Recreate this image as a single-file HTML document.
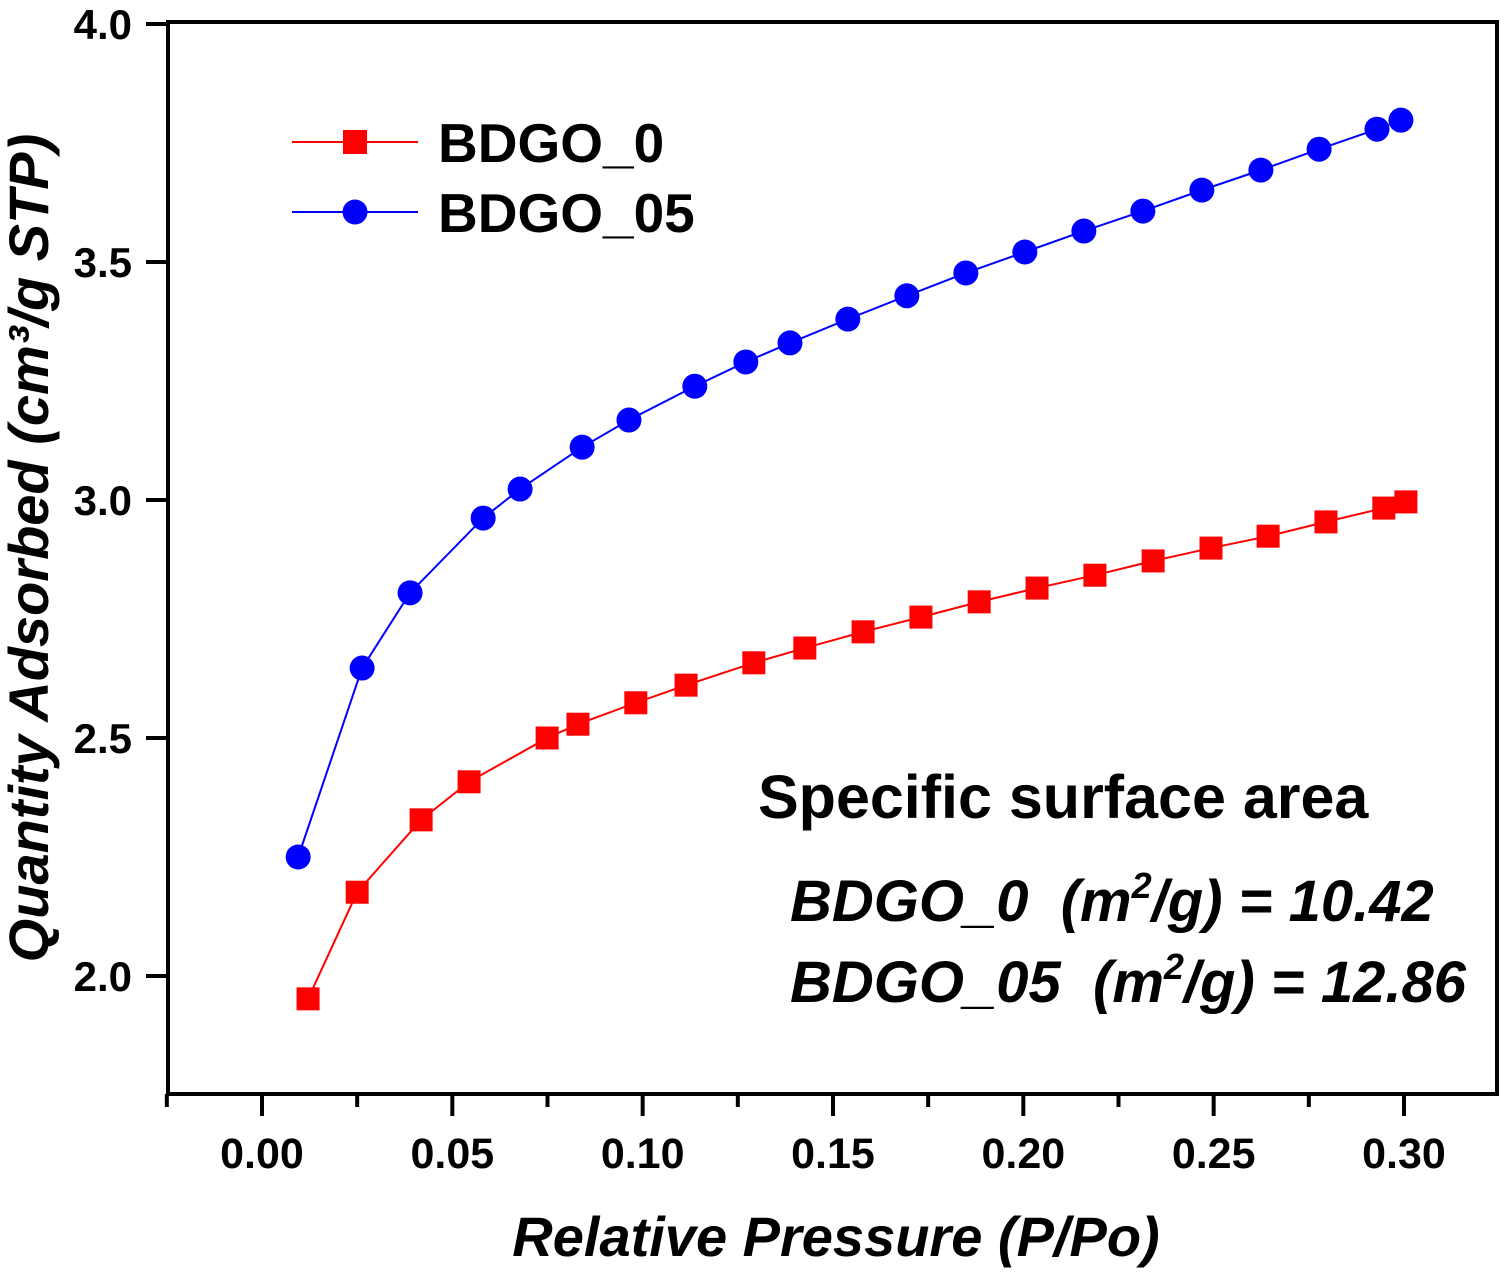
<!DOCTYPE html>
<html><head><meta charset="utf-8"><style>
html,body{margin:0;padding:0;background:#fff;}
svg{display:block;font-family:"Liberation Sans",Arial,sans-serif;font-weight:bold;}
text{white-space:pre;}
</style></head><body>
<svg id="chart" width="1508" height="1272" viewBox="0 0 1508 1272">
<g id="axes"></g><g id="series"></g>
<g>
<line x1="292" y1="142" x2="418" y2="142" stroke="#ff0000" stroke-width="2"/>
<rect x="343" y="130" width="24" height="24" fill="#ff0000"/>
<text x="438" y="162" font-size="55">BDGO_0</text>
<line x1="292" y1="212" x2="418" y2="212" stroke="#0000ff" stroke-width="2"/>
<circle cx="355" cy="212" r="12.5" fill="#0000ff"/>
<text x="438" y="232" font-size="55">BDGO_05</text>
</g>
<text x="758" y="818" font-size="61">Specific surface area</text>
<text x="790" y="921" font-size="58" font-style="italic" xml:space="preserve">BDGO_0  (m<tspan font-size="36" dy="-23">2</tspan><tspan dy="23">/g) = 10.42</tspan></text>
<text x="790" y="1002" font-size="58" font-style="italic" xml:space="preserve">BDGO_05  (m<tspan font-size="36" dy="-23">2</tspan><tspan dy="23">/g) = 12.86</tspan></text>
<text x="836" y="1256" font-size="56" font-style="italic" text-anchor="middle">Relative Pressure (P/Po)</text>
<text transform="translate(48,548) rotate(-90)" font-size="56" font-style="italic" text-anchor="middle">Quantity Adsorbed (cm³/g STP)</text>
</svg>
<script>
const redX=[0.0121,0.0250,0.0418,0.0544,0.0749,0.0830,0.0982,0.1114,0.1292,0.1426,0.1579,0.1731,0.1884,0.2036,0.2188,0.2341,0.2493,0.2643,0.2795,0.2947,0.3005];
const redY=[1.952,2.176,2.328,2.408,2.500,2.529,2.574,2.611,2.658,2.689,2.723,2.754,2.786,2.815,2.842,2.872,2.899,2.924,2.954,2.983,2.996];
const blueX=[0.0095,0.0263,0.0389,0.0581,0.0678,0.0841,0.0964,0.1137,0.1271,0.1387,0.1539,0.1694,0.1849,0.2004,0.2159,0.2314,0.2469,0.2624,0.2777,0.2929,0.2992];
const blueY=[2.250,2.647,2.805,2.962,3.023,3.111,3.168,3.239,3.290,3.330,3.380,3.429,3.477,3.521,3.565,3.607,3.651,3.693,3.737,3.779,3.798];
const xTicks=[0.00,0.05,0.10,0.15,0.20,0.25,0.30];
const xTickLabels=["0.00","0.05","0.10","0.15","0.20","0.25","0.30"];
const yTicks=[2.0,2.5,3.0,3.5,4.0];
const yTickLabels=["2.0","2.5","3.0","3.5","4.0"];
const NS="http://www.w3.org/2000/svg";
const L=168,R=1497,T=22,B=1094;
const sx=v=>262+(v-0)*(1404-262)/0.30;
const sy=v=>976-(v-2.0)*476;
function mk(tag,attrs,parent){const e=document.createElementNS(NS,tag);for(const k in attrs)e.setAttribute(k,attrs[k]);parent.appendChild(e);return e;}
const ax=document.getElementById('axes');
const frame=mk('rect',{x:L,y:T,width:R-L,height:B-T,fill:'none',stroke:'#000','stroke-width':4},ax);


for(let k=-1;k<=12;k++){
  const v=k*0.025;
  const major=k>=0&&k%2===0;
  const t=mk('line',{x1:sx(v),x2:sx(v),y1:B,y2:B+(major?22:13),stroke:'#000','stroke-width':4},ax);
  
  
}
xTicks.forEach((v,i)=>{const t=mk('text',{x:sx(v),y:1168,'font-size':43,'text-anchor':'middle'},ax);t.textContent=xTickLabels[i];
  
  });
yTicks.forEach((v,i)=>{const l=mk('line',{x1:L-22,x2:L,y1:sy(v),y2:sy(v),stroke:'#000','stroke-width':4},ax);
  
  
  const t=mk('text',{x:132,y:sy(v)+15,'font-size':42,'text-anchor':'end'},ax);t.textContent=yTickLabels[i];
  
  });
const sg=document.getElementById('series');
function series(xs,ys,color,name,sq){
  const g=mk('g',{},sg);
  
  
  const p=mk('polyline',{points:xs.map((x,i)=>sx(x)+','+sy(ys[i])).join(' '),fill:'none',stroke:color,'stroke-width':2},g);
  
  
  xs.forEach((x,i)=>{let m;
    if(sq)m=mk('rect',{x:sx(x)-11.5,y:sy(ys[i])-11.5,width:23,height:23,fill:color},g);
    else m=mk('circle',{cx:sx(x),cy:sy(ys[i]),r:12.5,fill:color},g);
    
    });
}
series(redX,redY,'#ff0000','series-bdgo-0',true);
series(blueX,blueY,'#0000ff','series-bdgo-05',false);
</script>
</body></html>
